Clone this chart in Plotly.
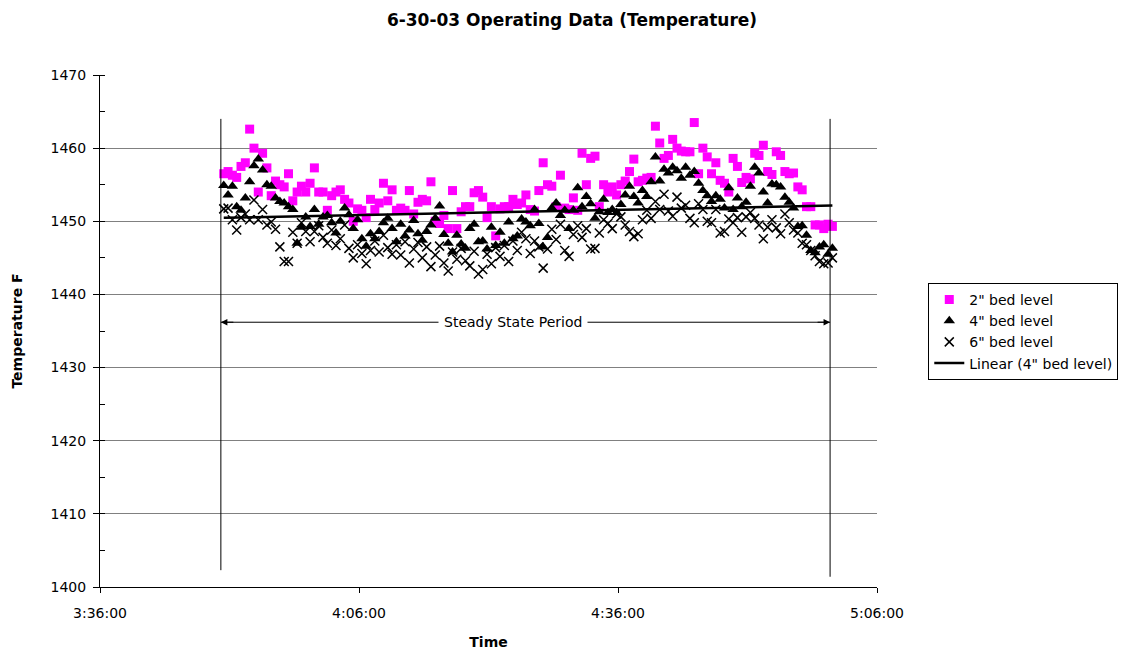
import numpy as np
import pandas as pd
import plotly.graph_objects as go

START_TIME = "2003-06-30 03:50:20"
SAMPLE_INTERVAL = "30s"

bed2 = [
    1456.5, 1456.8, 1456.3, 1456, 1457.5, 1458, 1462.6, 1460, 1454, 1459.3,
    1457.3, 1453.5, 1455.5, 1455, 1454.7, 1456.5, 1452.8, 1454, 1454.8, 1454,
    1455.2, 1457.3, 1454, 1454, 1451.5, 1453.5, 1454, 1454.3, 1453, 1452.5,
    1450, 1451.7, 1451.5, 1450.5, 1453, 1451.6, 1452.5, 1455.2, 1452.8, 1454.3,
    1451.5, 1451.8, 1451.5, 1454.2, 1451, 1452.6, 1453, 1452.8, 1455.4, 1450,
    1449.7, 1450.8, 1449, 1454.2, 1449, 1451.3, 1452, 1452, 1453.9, 1454.2,
    1453.3, 1450.5, 1452, 1448, 1451.7, 1452, 1452, 1453, 1452.3, 1452.5,
    1453.6, 1451.6, 1451.4, 1454.2, 1458, 1455, 1454.8, 1452, 1456.3, 1451.8,
    1451.6, 1453.2, 1451.5, 1459.3, 1455, 1458.6, 1458.9, 1452, 1455, 1454,
    1454.7, 1453.6, 1455, 1455.5, 1456.8, 1458.5, 1455.4, 1455.6, 1455.9, 1456,
    1463, 1460.7, 1458.6, 1459, 1461.2, 1460, 1459.6, 1459.5, 1459.5, 1463.5,
    1456.5, 1460, 1458.8, 1456.5, 1458, 1455.6, 1455.2, 1454, 1458.6, 1457.5,
    1455.3, 1456, 1455.8, 1459.3, 1459, 1460.4, 1456.8, 1456.4, 1459.5, 1459,
    1456.8, 1456.5, 1456.6, 1454.7, 1454.3, 1452, 1452, 1449.5, 1449.5, 1449,
    1449.6, 1449.3,
]

bed4 = [
    1454.9, 1453.6, 1454.8, 1452, 1451.5, 1453.2, 1455.4, 1457.6, 1458.5, 1457,
    1455, 1454.8, 1453.2, 1452.7, 1452.5, 1452, 1451.6, 1447, 1449.2, 1450.6,
    1449.3, 1451.6, 1449.6, 1450.6, 1450.8, 1449.8, 1448.4, 1450, 1451.8, 1450.9,
    1449, 1450.2, 1447.6, 1446.6, 1448.3, 1447.6, 1448.6, 1449.8, 1450.4, 1449,
    1447.2, 1449.6, 1448, 1448.8, 1450.1, 1448.3, 1447.4, 1448.6, 1449.5, 1450.4,
    1452.1, 1448.2, 1447, 1445.8, 1448.1, 1446.9, 1446.3, 1449, 1449.6, 1447.2,
    1447.3, 1446.2, 1449.2, 1446.7, 1448.5, 1447, 1449.9, 1447.6, 1448, 1450.3,
    1449.9, 1449.4, 1451.6, 1449.7, 1446.5, 1447.8, 1451.8, 1452.5, 1450.8, 1451.5,
    1449, 1451.5, 1454.6, 1452, 1453.4, 1452.4, 1450.4, 1451.3, 1453, 1451.2,
    1451.6, 1451.2, 1452.3, 1453.6, 1454.8, 1453.4, 1452.5, 1454.2, 1453.4, 1455.4,
    1458.8, 1455.5, 1457.1, 1456.6, 1457.4, 1456.9, 1455.9, 1457.4, 1456.3, 1456.8,
    1455.2, 1454.2, 1453.5, 1452.7, 1453.5, 1453, 1451.8, 1454.6, 1451.6, 1453.2,
    1452, 1452.6, 1454.8, 1457.4, 1456.6, 1454, 1452.5, 1455.1, 1455, 1454.7,
    1453.3, 1452.6, 1451.8, 1449.3, 1449.4, 1448.1, 1446, 1445.7, 1446.5, 1446.8,
    1445.5, 1446.3,
]

bed6 = [
    1451.7, 1451.8, 1450.2, 1448.8, 1450.5, 1451, 1450.2, 1452.9, 1450.2, 1451.6,
    1449.5, 1449.9, 1448.9, 1446.5, 1444.5, 1444.5, 1448.5, 1447, 1449.8, 1448.6,
    1447.2, 1448.6, 1449.4, 1447.8, 1447, 1448.8, 1446.7, 1447.6, 1449.5, 1446.3,
    1445, 1446.8, 1445.6, 1444.2, 1446, 1447.3, 1445.8, 1448.1, 1446.4, 1445.5,
    1446.8, 1445.4, 1447.2, 1444.3, 1446.2, 1447.1, 1445, 1446.5, 1443.8, 1445.4,
    1446.6, 1444.3, 1443.2, 1445.8, 1444.8, 1446.3, 1444.6, 1443.9, 1445.9, 1442.8,
    1443.4, 1445.5, 1444.2, 1446.4, 1445.2, 1446.7, 1444.5, 1447.3, 1446, 1448.5,
    1447.6, 1445.6, 1447.3, 1446.5, 1443.6, 1446.2, 1448.9, 1447.5, 1449.6, 1446,
    1445.2, 1448.2, 1449.4, 1447.8, 1449, 1446.2, 1446.3, 1448.4, 1450.2, 1449.7,
    1449, 1451, 1450.6, 1449.5, 1448.6, 1447.9, 1448.3, 1450.2, 1451.5, 1450.4,
    1452.7, 1451.6, 1453.7, 1451.4, 1450.7, 1453.3, 1451.8, 1452.2, 1450.4, 1449.8,
    1452.4, 1451.6, 1450, 1449.8, 1451.6, 1448.4, 1448.6, 1450.3, 1449.8, 1450.5,
    1448.5, 1450.6, 1451.2, 1450.4, 1449.5, 1447.6, 1449.2, 1450.2, 1449.1, 1448.3,
    1451, 1449.8, 1448.8, 1448.4, 1447, 1446.8, 1446, 1445.3, 1444.5, 1444.2,
    1444.3, 1445,
]

times = pd.date_range(START_TIME, periods=len(bed2), freq=SAMPLE_INTERVAL)

# steady-state period markers
ss_start = "2003-06-30 03:50:00"
ss_end = "2003-06-30 05:00:34"
ss_label_x = "2003-06-30 04:23:50"
ss_arrow_y = 1436.2
ss_line_top = 1464
ss_line_bottom_left = 1402.3
ss_line_bottom_right = 1401.4

# linear trend of 4" bed level
tnum = (times - times[0]).total_seconds().to_numpy()
coef = np.polyfit(tnum, np.array(bed4), 1)
trend_y = np.polyval(coef, tnum[[0, -1]])
trend_x = [times[0], times[-1]]

FONT = "DejaVu Sans, Arial, sans-serif"

fig = go.Figure()
fig.add_trace(go.Scatter(x=times, y=bed2, mode="markers", name='2" bed level',
                         marker=dict(symbol="square", size=9, color="#FF00FF")))
fig.add_trace(go.Scatter(x=times, y=bed4, mode="markers", name='4" bed level',
                         marker=dict(symbol="triangle-up", size=10, color="black")))
fig.add_trace(go.Scatter(x=times, y=bed6, mode="markers", name='6" bed level',
                         marker=dict(symbol="x-thin", size=9, color="black",
                                     line=dict(color="black", width=1.5))))
fig.add_trace(go.Scatter(x=trend_x, y=trend_y, mode="lines", name='Linear (4" bed level)',
                         line=dict(color="black", width=2.5)))

# vertical lines
fig.add_shape(type="line", xref="x", yref="y", x0=ss_start, x1=ss_start,
              y0=ss_line_bottom_left, y1=ss_line_top, line=dict(color="black", width=1))
fig.add_shape(type="line", xref="x", yref="y", x0=ss_end, x1=ss_end,
              y0=ss_line_bottom_right, y1=ss_line_top, line=dict(color="black", width=1))
# horizontal double arrow
fig.add_shape(type="line", xref="x", yref="y", x0=ss_start, x1=ss_end,
              y0=ss_arrow_y, y1=ss_arrow_y, line=dict(color="black", width=1))
fig.add_annotation(x=ss_start, y=ss_arrow_y, ax=14, ay=0, text="", showarrow=True,
                   arrowhead=2, arrowsize=1.3, arrowwidth=1, arrowcolor="black")
fig.add_annotation(x=ss_end, y=ss_arrow_y, ax=-14, ay=0, text="", showarrow=True,
                   arrowhead=2, arrowsize=1.3, arrowwidth=1, arrowcolor="black")
fig.add_annotation(x=ss_label_x, y=ss_arrow_y, text="Steady State Period", showarrow=False,
                   bgcolor="white", borderpad=5, font=dict(size=14, color="black", family=FONT))

fig.update_layout(
    width=1122, height=656,
    margin=dict(l=100, r=245, t=75, b=69, autoexpand=False),
    paper_bgcolor="white", plot_bgcolor="white",
    font=dict(family=FONT, size=14, color="black"),
    title=dict(text="<b>6-30-03 Operating Data (Temperature)</b>", x=572 / 1122, xanchor="center",
               y=1 - 20 / 656, yanchor="middle", font=dict(size=17)),
    showlegend=True,
    legend=dict(x=1.066, y=0.594, xanchor="left", yanchor="top",
                bordercolor="black", borderwidth=1, bgcolor="white",
                font=dict(size=14), itemwidth=30, tracegroupgap=0),
)
fig.update_xaxes(
    type="date",
    range=["2003-06-30 03:36:00", "2003-06-30 05:06:00"],
    tick0="2003-06-30 03:36:00", dtick=30 * 60 * 1000,
    tickformat="%-H:%M:%S",
    showgrid=False, zeroline=False,
    showline=True, linecolor="black", linewidth=1,
    ticks="outside", ticklen=5, tickcolor="black",
    ticklabelstandoff=8,
    title=dict(text="<b>Time</b>", standoff=17, font=dict(size=14)),
)
fig.update_yaxes(
    range=[1400, 1470], dtick=10,
    showgrid=True, gridcolor="#808080", gridwidth=1,
    zeroline=False,
    showline=True, linecolor="black", linewidth=1,
    ticks="outside", ticklen=6, tickcolor="black",
    ticklabelstandoff=4,
    minor=dict(dtick=5, ticks="inside", ticklen=5, tickcolor="black", showgrid=False),
    title=dict(text="<b>Temperature F</b>", standoff=24, font=dict(size=14)),
)

fig.write_html("out.html")
